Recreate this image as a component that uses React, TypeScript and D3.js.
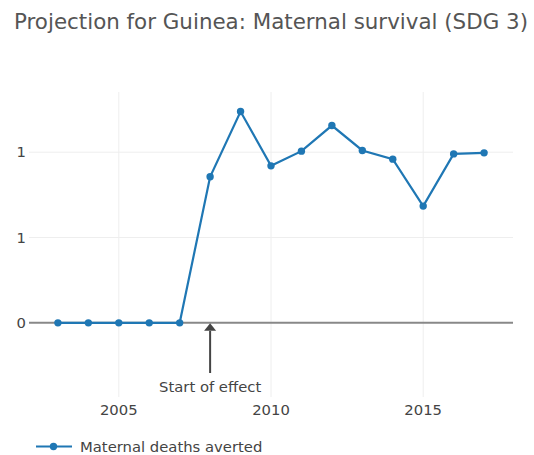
import React from 'react';
import * as d3 from 'd3';

const years = [2003, 2004, 2005, 2006, 2007, 2008, 2009, 2010, 2011, 2012, 2013, 2014, 2015, 2016, 2017];
const averted = [0, 0, 0, 0, 0, 0.856, 1.238, 0.92, 1.006, 1.156, 1.01, 0.959, 0.684, 0.99, 0.996];
const xTicks = [2005, 2010, 2015];
const yTicks = [0, 0.5, 1];
const effectYear = 2008;

const title = 'Projection for Guinea: Maternal survival (SDG 3)';
const seriesName = 'Maternal deaths averted';

const font = '"DejaVu Sans", Verdana, sans-serif';

const App = () => {
  const width = 534;
  const height = 455;
  const left = 29;
  const right = 513;
  const top = 92;
  const bottom = 397;

  const xScale = d3.scaleLinear().domain([2002.05, 2017.95]).range([left, right]);
  const yScale = d3.scaleLinear().domain([-0.4345, 1.3526]).range([bottom, top]);

  const line = d3.line<number>()
    .x((_, i) => xScale(years[i]))
    .y(d => yScale(d));

  const color = '#1f77b4';
  const ax = xScale(effectYear);
  const y0 = yScale(0);

  return (
    <svg width={width} height={height} style={{ position: 'absolute', left: 0, top: 0, background: '#fff' }}>
      <text x={271} y={29} textAnchor="middle" fontFamily={font} fontSize={21.4} fill="#555">{title}</text>

      {xTicks.map(t => (
        <line key={'gx' + t} x1={xScale(t)} x2={xScale(t)} y1={top} y2={bottom} stroke="#eee" strokeWidth={1} />
      ))}
      {yTicks.filter(t => t !== 0).map(t => (
        <line key={'gy' + t} x1={left} x2={right} y1={yScale(t)} y2={yScale(t)} stroke="#eee" strokeWidth={1} />
      ))}
      <line x1={left} x2={right} y1={y0} y2={y0} stroke="#888" strokeWidth={2} />

      {yTicks.map(t => (
        <text key={'ty' + t} x={26} y={yScale(t)} dy="0.35em" textAnchor="end" fontFamily={font} fontSize={14.8} fill="#444">
          {d3.format('.0f')(t === 0.5 ? 1 : t)}
        </text>
      ))}
      {xTicks.map(t => (
        <text key={'tx' + t} x={xScale(t)} y={415} textAnchor="middle" fontFamily={font} fontSize={14.8} fill="#444">{t}</text>
      ))}

      <path d={line(averted) ?? ''} fill="none" stroke={color} strokeWidth={2.2} />
      {averted.map((v, i) => (
        <circle key={i} cx={xScale(years[i])} cy={yScale(v)} r={3.7} fill={color} />
      ))}

      <line x1={ax} x2={ax} y1={373} y2={y0 + 8} stroke="#444" strokeWidth={2} />
      <path d={`M${ax},${y0 + 0.5} L${ax - 6},${y0 + 8} L${ax + 6},${y0 + 8} Z`} fill="#444" />
      <text x={ax} y={391.5} textAnchor="middle" fontFamily={font} fontSize={14.8} fill="#444">Start of effect</text>

      <line x1={36} x2={72} y1={446.5} y2={446.5} stroke={color} strokeWidth={2.2} />
      <circle cx={53.5} cy={446.5} r={3.7} fill={color} />
      <text x={80} y={446.5} dy="0.35em" fontFamily={font} fontSize={14.8} fill="#444">{seriesName}</text>
    </svg>
  );
};

export default App;
